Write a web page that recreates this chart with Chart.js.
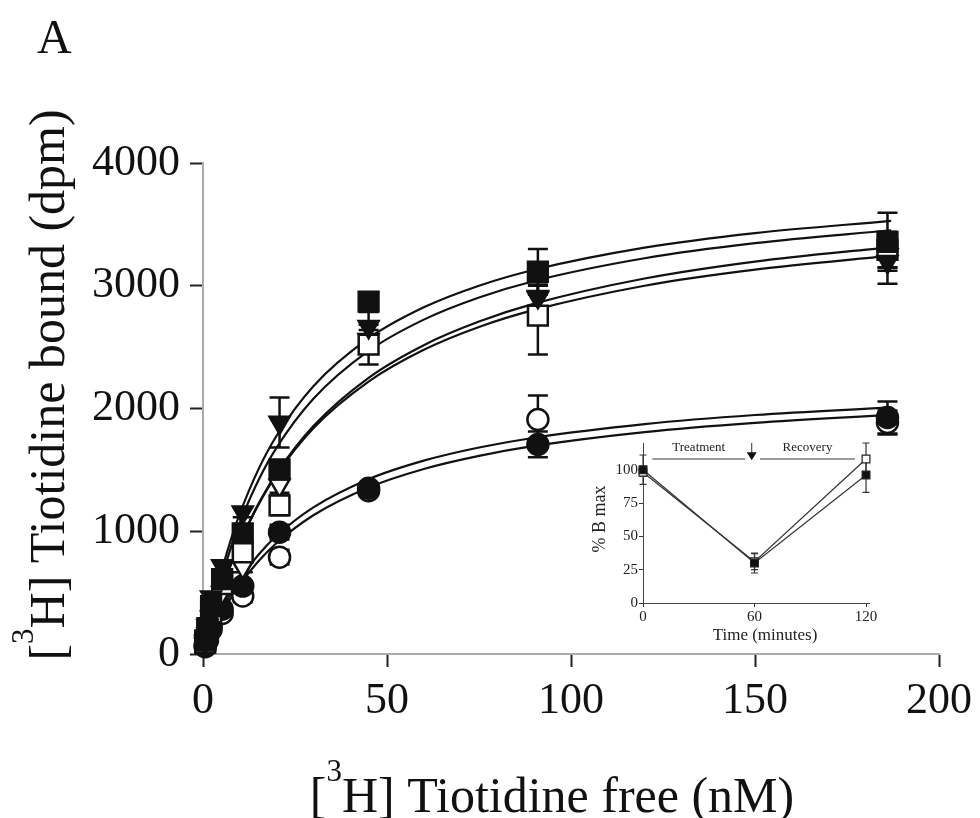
<!DOCTYPE html>
<html>
<head>
<meta charset="utf-8">
<title>[3H] Tiotidine binding</title>
<script src="https://cdn.jsdelivr.net/npm/chart.js@4.4.1/dist/chart.umd.min.js"></script>
<style>
    html, body { margin: 0; padding: 0; background: #fff; }
    #wrap { position: relative; width: 980px; height: 818px; }
    #mainChart { position: absolute; left: 0; top: 0; }
    #insetChart { position: absolute; left: 555px; top: 430px; }
</style>
</head>
<body>
<div id="wrap">
    <canvas id="mainChart" width="980" height="818"></canvas>
    <canvas id="insetChart" width="330" height="220"></canvas>
</div>
<script>
const SERIF = "'Liberation Serif', 'DejaVu Serif', serif";

// Saturation binding: free ligand (nM) vs bound (dpm)
const freeNM = [0.6, 1.2, 2.2, 5.2, 10.8, 20.8, 45, 91, 186];

const boundFilledSquare = [110, 210, 390, 610, 983, 1504, 2870, 3114, 3358];
const boundFilledTri = [100, 230, 463, 717, 1154, 1886, 2667, 2911, 3195];
const boundOpenSquare = [90, 180, 340, 570, 829, 1211, 2520, 2756, 3293];
const boundOpenTri = [80, 160, 300, 500, 707, 1374, 2560, 2900, 3250];
const boundFilledCircle = [70, 130, 230, 365, 553, 992, 1350, 1707, 1927];
const boundOpenCircle = [60, 110, 200, 330, 472, 789, 1330, 1910, 1886];

const errFilledSquare = [0, 0, 0, 0, 40, 60, 60, 186, 236];
const errFilledTri = [0, 0, 0, 0, 40, 203, 120, 100, 179];
const errOpenSquare = [0, 0, 0, 0, 40, 80, 162, 317, 147];
const errOpenTri = [0, 0, 0, 0, 40, 60, 80, 100, 100];
const errFilledCircle = [0, 0, 0, 0, 40, 60, 40, 105, 130];
const errOpenCircle = [0, 0, 0, 0, 50, 60, 40, 196, 97];

// fitted curves, read at these concentrations
const curveNM = [0, 1, 2.5, 5, 7.5, 10, 15, 20, 30, 45, 60, 75, 90, 120, 150, 187];
const fitUpperA = [0, 154, 364, 667, 923, 1143, 1500, 1778, 2182, 2571, 2824, 3000, 3130, 3310, 3429, 3528];
const fitUpperB = [0, 141, 335, 617, 859, 1068, 1411, 1681, 2079, 2469, 2724, 2904, 3039, 3224, 3347, 3452];
const fitUpperC = [0, 115, 275, 513, 722, 907, 1219, 1472, 1857, 2250, 2516, 2708, 2854, 3059, 3197, 3315];
const fitUpperD = [0, 112, 275, 514, 722, 905, 1213, 1462, 1839, 2219, 2478, 2664, 2803, 3000, 3131, 3245];
const fitLowerA = [0, 80, 189, 350, 488, 608, 806, 963, 1195, 1424, 1575, 1682, 1762, 1873, 1947, 2009];
const fitLowerB = [0, 73, 174, 323, 452, 565, 753, 904, 1130, 1356, 1507, 1614, 1695, 1808, 1883, 1948];

const xTicks = [0, 50, 100, 150, 200];
const yTicks = [0, 1000, 2000, 3000, 4000];

// Inset: B max over the treatment / recovery time course
const timeMin = [0, 60, 120];
const bmaxFilled = [100, 30, 96];
const bmaxOpen = [98, 31, 108];
const bmaxErrFilled = [11, 7.5, 13];
const bmaxErrOpen = [3, 6, 12];
const insetYTicks = [0, 25, 50, 75, 100];
const insetXTicks = [0, 60, 120];

const phases = [
    { label: 'Treatment', from: 5, to: 55 },
    { label: 'Recovery', from: 63, to: 114 }
];
const arrowAt = 58.5;

function toPoints(xs, ys) {
    return xs.map((x, i) => ({ x: x, y: ys[i] }));
}

// plain numbers, no thousands separator
function plainTick(value) {
    return String(value);
}

// vertical error bars with caps, drawn underneath the markers
const errorBars = {
    id: 'errorBars',
    beforeDatasetsDraw(chart) {
        const ctx = chart.ctx;
        const yScale = chart.scales.y;
        chart.data.datasets.forEach((ds, i) => {
            if (!ds.errors) return;
            const meta = chart.getDatasetMeta(i);
            ctx.save();
            ctx.strokeStyle = ds.errorColor || '#111';
            ctx.lineWidth = ds.errorWidth || 2.5;
            meta.data.forEach((pt, j) => {
                const e = ds.errors[j];
                if (!e) return;
                const v = ds.data[j].y;
                const top = yScale.getPixelForValue(v + e);
                const bot = yScale.getPixelForValue(v - e);
                const half = ds.capWidth / 2;
                ctx.beginPath();
                ctx.moveTo(pt.x, top);
                ctx.lineTo(pt.x, bot);
                ctx.moveTo(pt.x - half, top);
                ctx.lineTo(pt.x + half, top);
                ctx.moveTo(pt.x - half, bot);
                ctx.lineTo(pt.x + half, bot);
                ctx.stroke();
            });
            ctx.restore();
        });
    }
};

// "[3H] ..." with a raised 3
function drawIsotopeLabel(ctx, rest, cx, baseline) {
    const big = '50px ' + SERIF;
    const small = '31px ' + SERIF;
    ctx.font = big;
    const w1 = ctx.measureText('[').width;
    const w3 = ctx.measureText('H] ' + rest).width;
    ctx.font = small;
    const w2 = ctx.measureText('3').width;
    let x = cx - (w1 + w2 + w3) / 2;
    ctx.textAlign = 'left';
    ctx.textBaseline = 'alphabetic';
    ctx.font = big;
    ctx.fillText('[', x, baseline);
    x += w1;
    ctx.font = small;
    ctx.fillText('3', x, baseline - 31);
    x += w2;
    ctx.font = big;
    ctx.fillText('H] ' + rest, x, baseline);
}

const mainTitles = {
    id: 'mainTitles',
    afterDraw(chart) {
        const ctx = chart.ctx;
        ctx.save();
        ctx.fillStyle = '#111';
        ctx.font = '48px ' + SERIF;
        ctx.textAlign = 'left';
        ctx.textBaseline = 'alphabetic';
        ctx.fillText('A', 37, 53);
        drawIsotopeLabel(ctx, 'Tiotidine free (nM)', 552, 812);
        ctx.translate(64, 385);
        ctx.rotate(-Math.PI / 2);
        drawIsotopeLabel(ctx, 'Tiotidine bound (dpm)', 0, 0);
        ctx.restore();
    }
};

const insetTitles = {
    id: 'insetTitles',
    afterDraw(chart) {
        const ctx = chart.ctx;
        const xs = chart.scales.x;
        const ys = chart.scales.y;
        ctx.save();
        ctx.fillStyle = '#222';
        ctx.strokeStyle = '#333';
        ctx.lineWidth = 1;
        ctx.textBaseline = 'alphabetic';
        ctx.textAlign = 'center';
        ctx.font = '17px ' + SERIF;
        ctx.fillText('Time (minutes)', 210, 210);

        // phase bars with labels
        ctx.font = '13px ' + SERIF;
        const lineY = ys.getPixelForValue(108);
        phases.forEach(p => {
            const x0 = xs.getPixelForValue(p.from);
            const x1 = xs.getPixelForValue(p.to);
            ctx.beginPath();
            ctx.moveTo(x0, lineY);
            ctx.lineTo(x1, lineY);
            ctx.stroke();
            ctx.fillText(p.label, (x0 + x1) / 2, ys.getPixelForValue(114));
        });

        // arrow marking the end of treatment
        const ax = xs.getPixelForValue(arrowAt);
        const aTop = ys.getPixelForValue(120);
        const aTip = ys.getPixelForValue(107);
        ctx.beginPath();
        ctx.moveTo(ax, aTop);
        ctx.lineTo(ax, aTip - 6);
        ctx.stroke();
        ctx.fillStyle = '#111';
        ctx.beginPath();
        ctx.moveTo(ax - 5, aTip - 8);
        ctx.lineTo(ax + 5, aTip - 8);
        ctx.lineTo(ax, aTip);
        ctx.closePath();
        ctx.fill();

        ctx.fillStyle = '#222';
        ctx.font = '18px ' + SERIF;
        ctx.translate(50, 89);
        ctx.rotate(-Math.PI / 2);
        ctx.fillText('% B max', 0, 0);
        ctx.restore();
    }
};

function markerSet(values, errors, style, order) {
    return Object.assign({
        type: 'scatter',
        data: toPoints(freeNM, values),
        errors: errors,
        capWidth: 20,
        borderColor: '#111',
        borderWidth: 2.5,
        order: order,
        clip: false
    }, style);
}

function curveSet(values) {
    return {
        type: 'scatter',
        data: toPoints(curveNM, values),
        showLine: true,
        borderColor: '#111',
        borderWidth: 2.2,
        pointRadius: 0,
        cubicInterpolationMode: 'monotone',
        order: 2,
        clip: false
    };
}

function drawMainChart() {
    const ctx = document.getElementById('mainChart');
    const tickFont = { family: SERIF, size: 44 };
    new Chart(ctx, {
        type: 'scatter',
        data: {
            datasets: [
                markerSet(boundFilledSquare, errFilledSquare, { pointStyle: 'rect', pointRadius: 14, backgroundColor: '#111' }, 1),
                markerSet(boundFilledTri, errFilledTri, { pointStyle: 'triangle', pointRotation: 180, pointRadius: 11.5, backgroundColor: '#111' }, 1),
                markerSet(boundOpenSquare, errOpenSquare, { pointStyle: 'rect', pointRadius: 14, backgroundColor: '#fff' }, 1),
                markerSet(boundOpenTri, errOpenTri, { pointStyle: 'triangle', pointRotation: 180, pointRadius: 11.5, backgroundColor: '#fff' }, 1),
                markerSet(boundFilledCircle, errFilledCircle, { pointStyle: 'circle', pointRadius: 10.5, backgroundColor: '#111' }, 1),
                markerSet(boundOpenCircle, errOpenCircle, { pointStyle: 'circle', pointRadius: 10.5, backgroundColor: '#fff' }, 1),
                curveSet(fitUpperA),
                curveSet(fitUpperB),
                curveSet(fitUpperC),
                curveSet(fitUpperD),
                curveSet(fitLowerA),
                curveSet(fitLowerB)
            ]
        },
        options: {
            responsive: false,
            animation: false,
            devicePixelRatio: 1,
            layout: { padding: { top: 163, right: 40, left: 0, bottom: 0 } },
            plugins: {
                legend: { display: false },
                tooltip: { enabled: false }
            },
            scales: {
                x: {
                    type: 'linear',
                    min: xTicks[0],
                    max: xTicks[xTicks.length - 1],
                    afterFit: function (scale) { scale.height = 164; },
                    afterBuildTicks: function (scale) { scale.ticks = xTicks.map(v => ({ value: v })); },
                    grid: { drawOnChartArea: false, tickLength: 13, tickColor: '#222', tickWidth: 2 },
                    border: { color: '#aaa', width: 2 },
                    ticks: { font: tickFont, color: '#111', padding: 8, maxRotation: 0, callback: plainTick }
                },
                y: {
                    type: 'linear',
                    min: yTicks[0],
                    max: yTicks[yTicks.length - 1],
                    afterFit: function (scale) { scale.width = 203; },
                    afterBuildTicks: function (scale) { scale.ticks = yTicks.map(v => ({ value: v })); },
                    grid: { drawOnChartArea: false, tickLength: 13, tickColor: '#222', tickWidth: 2 },
                    border: { color: '#aaa', width: 2 },
                    ticks: { font: tickFont, color: '#111', padding: 10, callback: plainTick }
                }
            }
        },
        plugins: [errorBars, mainTitles]
    });
}

function drawInsetChart() {
    const ctx = document.getElementById('insetChart');
    const tickFont = { family: SERIF, size: 15 };
    const base = {
        type: 'scatter',
        showLine: true,
        borderColor: '#333',
        borderWidth: 1.2,
        pointStyle: 'rect',
        pointRadius: 5.5,
        pointBorderColor: '#222',
        pointBorderWidth: 1.2,
        capWidth: 7,
        errorWidth: 1.2,
        errorColor: '#333',
        clip: false
    };
    new Chart(ctx, {
        type: 'scatter',
        data: {
            datasets: [
                Object.assign({}, base, {
                    data: toPoints(timeMin, bmaxFilled),
                    errors: bmaxErrFilled,
                    pointBackgroundColor: '#111'
                }),
                Object.assign({}, base, {
                    data: toPoints(timeMin, bmaxOpen),
                    errors: bmaxErrOpen,
                    pointBackgroundColor: '#fff'
                })
            ]
        },
        options: {
            responsive: false,
            animation: false,
            devicePixelRatio: 1,
            layout: { padding: { top: 13, right: 16, left: 0, bottom: 0 } },
            plugins: {
                legend: { display: false },
                tooltip: { enabled: false }
            },
            scales: {
                x: {
                    type: 'linear',
                    min: 0,
                    max: 121.6,
                    afterFit: function (scale) { scale.height = 47; },
                    afterBuildTicks: function (scale) { scale.ticks = insetXTicks.map(v => ({ value: v })); },
                    grid: { drawOnChartArea: false, tickLength: 4, tickColor: '#333', tickWidth: 1 },
                    border: { color: '#444', width: 1 },
                    ticks: { font: tickFont, color: '#222', padding: 1, maxRotation: 0, callback: plainTick }
                },
                y: {
                    type: 'linear',
                    min: 0,
                    max: 120,
                    afterFit: function (scale) { scale.width = 88; },
                    afterBuildTicks: function (scale) { scale.ticks = insetYTicks.map(v => ({ value: v })); },
                    grid: { drawOnChartArea: false, tickLength: 4, tickColor: '#333', tickWidth: 1 },
                    border: { color: '#444', width: 1 },
                    ticks: { font: tickFont, color: '#222', padding: 1, callback: plainTick }
                }
            }
        },
        plugins: [errorBars, insetTitles]
    });
}

document.addEventListener('DOMContentLoaded', function () {
    drawMainChart();
    drawInsetChart();
});
</script>
</body>
</html>
